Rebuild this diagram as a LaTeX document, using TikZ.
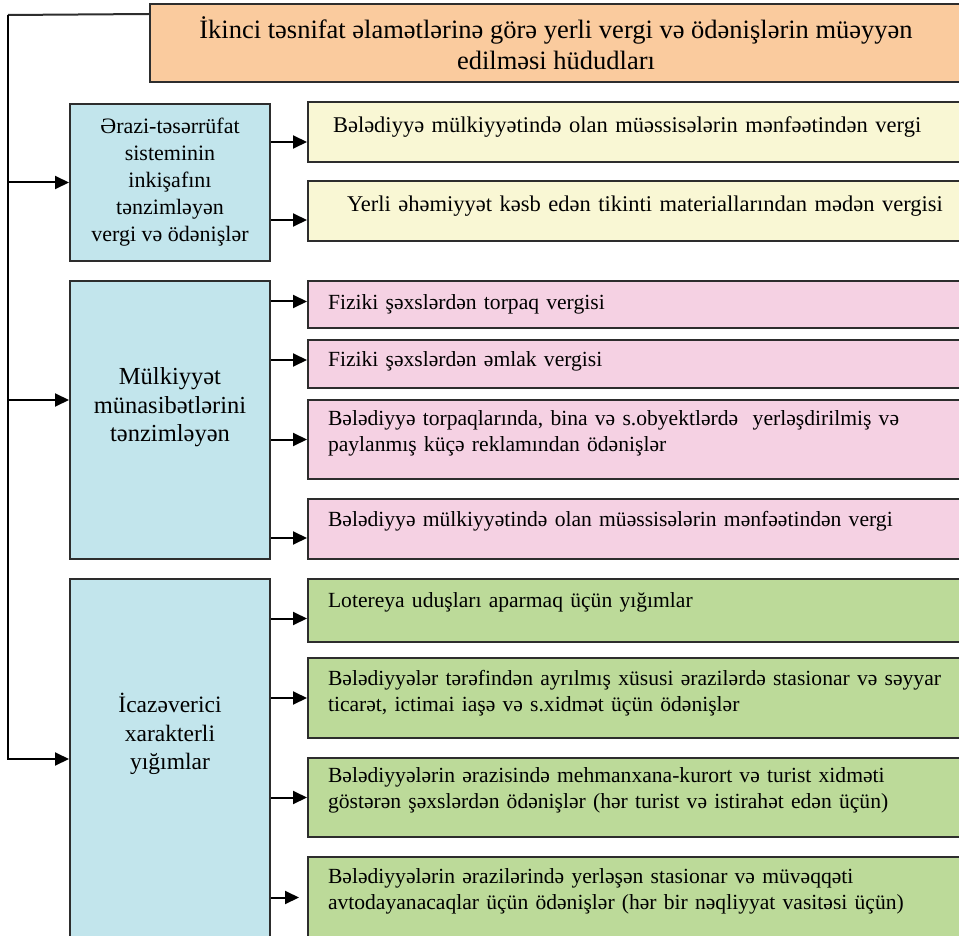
\documentclass[tikz,border=0pt]{standalone}
\usepackage{fontspec}
\setmainfont{Liberation Serif}
\usetikzlibrary{arrows.meta,positioning,calc}
\newcommand{\drop}[1]{\rule[-#1]{0pt}{#1}}
\definecolor{colorHead}{RGB}{250,203,158}
\definecolor{colorGroup}{RGB}{194,229,236}
\definecolor{colorYel}{RGB}{249,247,212}
\definecolor{colorPink}{RGB}{245,209,227}
\definecolor{colorGreen}{RGB}{188,218,153}
\definecolor{colorLine}{RGB}{45,45,45}
\tikzset{
   every path/.style={>={Triangle[length=14pt,width=13pt]}},
   box/.style={rectangle,draw=colorLine,line width=2pt,inner ysep=0pt},
   head/.style={box,fill=colorHead,minimum width=812pt,minimum height=78pt,align=center,font=\fontsize{26.5}{31}\selectfont},
   group/.style={box,fill=colorGroup,minimum width=200pt,inner xsep=0pt,align=center},
   item/.style={box,inner xsep=20pt,text width=640pt,align=left,font=\fontsize{21.6}{26}\selectfont},
   yel/.style={item,fill=colorYel,inner xsep=25pt,text width=630pt,font=\fontsize{22.5}{27}\selectfont},
   pink/.style={item,fill=colorPink},
   green/.style={item,fill=colorGreen},
   arr/.style={->,line width=2pt,color=black},
   trunk/.style={line width=2pt,color=colorLine},
}

\begin{document}
\begin{tikzpicture}[x=1pt,y=-1pt]
      \useasboundingbox (0,0) rectangle (959,936);
      \node[head] (title) at (556,43) {İkinci təsnifat əlamətlərinə görə yerli vergi və ödənişlərin müəyyən\\edilməsi hüdudları};
      \node[group,minimum height=157pt,font=\fontsize{22}{27}\selectfont] (area) at (170,182.5) {Ərazi-təsərrüfat\\sisteminin\\inkişafını\\tənzimləyən\\vergi və ödənişlər};
      \node[group,minimum height=278pt,font=\fontsize{24.5}{28.5}\selectfont] (prop) at (170,420) {Mülkiyyət\\münasibətlərini\\tənzimləyən\drop{31pt}};
      \node[group,minimum height=360pt,font=\fontsize{23.5}{28.5}\selectfont] (perm) at (170,759) {İcazəverici\\xarakterli\\yığımlar\drop{55pt}};
      \node[yel,minimum height=60pt] (y1) at (648,132) {Bələdiyyə mülkiyyətində olan müəssisələrin mənfəətindən vergi\drop{14pt}};
      \node[yel,minimum height=60pt] (y2) at (648,211) {\hspace*{14pt}Yerli əhəmiyyət kəsb edən tikinti materiallarından mədən vergisi\drop{14pt}};
      \node[pink,minimum height=47pt] (p1) at (648,304.5) {Fiziki şəxslərdən torpaq vergisi};
      \node[pink,minimum height=48pt] (p2) at (648,364) {Fiziki şəxslərdən əmlak vergisi\drop{10pt}};
      \node[pink,minimum height=79pt] (p3) at (648,439.5) {Bələdiyyə torpaqlarında, bina və s.obyektlərdə\ \ yerləşdirilmiş və\\paylanmış küçə reklamından ödənişlər\drop{16pt}};
      \node[pink,minimum height=60pt] (p4) at (648,529) {Bələdiyyə mülkiyyətində olan müəssisələrin mənfəətindən vergi\drop{20pt}};
      \node[green,minimum height=63pt] (g1) at (648,610.5) {Lotereya uduşları aparmaq üçün yığımlar\drop{20pt}};
      \node[green,minimum height=80pt] (g2) at (648,698) {Bələdiyyələr tərəfindən ayrılmış xüsusi ərazilərdə stasionar və səyyar\\ticarət, ictimai iaşə və s.xidmət üçün ödənişlər\drop{14pt}};
      \node[green,minimum height=79pt] (g3) at (648,797.5) {Bələdiyyələrin ərazisində mehmanxana-kurort və turist xidməti\\göstərən şəxslərdən ödənişlər (hər turist və istirahət edən üçün)\drop{18pt}};
      \node[green,minimum height=81pt] (g4) at (648,897.5) {Bələdiyyələrin ərazilərində yerləşən stasionar və müvəqqəti\\avtodayanacaqlar üçün ödənişlər (hər bir nəqliyyat vasitəsi üçün)\drop{16pt}};
      \coordinate (corner) at (8,15);
      % left trunk
      \draw[trunk] ([yshift=-11pt]title.north west) -- (corner);
      \draw[arr] (corner) |- (perm.west);
      \draw[arr] (corner |- area.west) -- (area.west);
      \draw[arr] ([yshift=20pt]corner |- prop.west) -- ([yshift=20pt]prop.west);
      % branches
      \draw[arr] ([yshift=-10pt]area.east |- y1.west) -- ([yshift=-10pt]y1.west);
      \draw[arr] ([yshift=-9pt]area.east |- y2.west) -- ([yshift=-9pt]y2.west);
      \draw[arr] ([yshift=3pt]prop.east |- p1.west) -- ([yshift=3pt]p1.west);
      \draw[arr] ([yshift=4pt]prop.east |- p2.west) -- ([yshift=4pt]p2.west);
      \draw[arr] (prop.east |- p3.west) -- (p3.west);
      \draw[arr] ([yshift=-9pt]prop.east |- p4.west) -- ([yshift=-9pt]p4.west);
      \draw[arr] ([yshift=-8pt]perm.east |- g1.west) -- ([yshift=-8pt]g1.west);
      \draw[arr] (perm.east |- g2.west) -- (g2.west);
      \draw[arr] (perm.east |- g3.west) -- (g3.west);
      \draw[arr] (perm.east |- g4.west) -- ([xshift=-8pt]g4.west);
\end{tikzpicture}
\end{document}
